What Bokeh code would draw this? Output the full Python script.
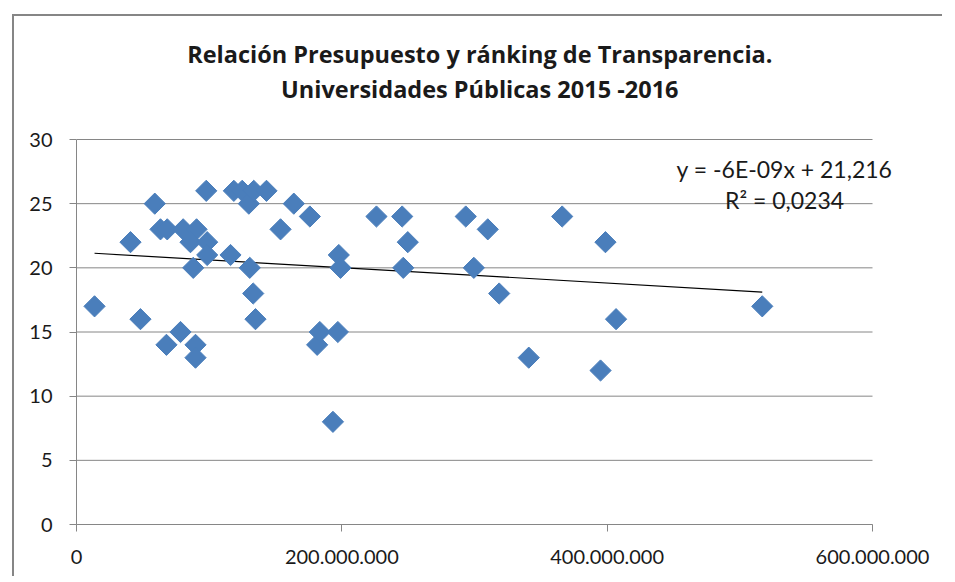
import numpy as np
from bokeh.plotting import figure
from bokeh.models import Range1d, FixedTicker, Label
from bokeh.embed import file_html
from bokeh.resources import INLINE

# Presupuesto (euros) and ranking de transparencia
presupuesto = [13.6e6, 40.7e6, 48.2e6, 59.0e6, 63.3e6, 68.4e6, 67.8e6, 78.4e6, 80.4e6,
               90.5e6, 85.9e6, 98.5e6, 98.5e6, 88.0e6, 89.7e6, 89.7e6, 97.8e6, 116.1e6,
               118.6e6, 124.9e6, 129.9e6, 133.6e6, 130.6e6, 133.2e6, 134.9e6, 143.2e6,
               153.8e6, 163.8e6, 175.9e6, 197.7e6, 199.0e6, 181.4e6, 183.4e6, 197.0e6,
               193.3e6, 226.1e6, 245.5e6, 249.7e6, 246.3e6, 293.4e6, 310.0e6, 299.5e6,
               318.6e6, 340.9e6, 366.1e6, 395.0e6, 398.7e6, 406.7e6, 516.9e6]
ranking = [17, 22, 16, 25, 23, 23, 14, 15, 23,
           23, 22, 22, 21, 20, 14, 13, 26, 21,
           26, 26, 25, 26, 20, 18, 16, 26,
           23, 25, 24, 21, 20, 14, 15, 15,
           8, 24, 24, 22, 20, 24, 23, 20,
           18, 13, 24, 12, 22, 16, 17]

trend_slope = -6e-09
trend_intercept = 21.216
equation_text = "y = -6E-09x + 21,216"
r2_text = "R\u00b2 = 0,0234"

title_line1 = "Relación Presupuesto y ránking de Transparencia."
title_line2 = "Universidades Públicas 2015 -2016"

x_ticks = [0, 200e6, 400e6, 600e6]
x_tick_labels = ["0", "200.000.000", "400.000.000", "600.000.000"]
y_ticks = [0, 5, 10, 15, 20, 25, 30]
X_AXIS_MAX = 600e6
Y_AXIS_MAX = 30

FONT = "Lato"
TITLE_FONT = "Open Sans"
TEXT = "#1a1a1a"
GRID = "#868686"
BLUE = "#4a7ebb"

# layout (pixels)
W, H = 930, 562
ML, MB, MR = 62, 54, 0
axis_px_w = 796.0
axis_px_h = 385.0
frame_w = W - ML - MR
frame_h = H - MB
x_end = X_AXIS_MAX * frame_w / axis_px_w
y_end = Y_AXIS_MAX * frame_h / axis_px_h

p = figure(width=W, height=H, output_backend="svg", toolbar_location=None,
           x_range=Range1d(0, x_end), y_range=Range1d(0, y_end),
           min_border_left=ML, min_border_right=MR, min_border_top=0, min_border_bottom=MB)
p.styles = {"border-top": "2px solid #868686", "border-left": "2px solid #868686",
            "border-right": "none", "outline": "none",
            "margin-left": "12px", "margin-top": "14px"}
p.outline_line_color = None
p.background_fill_color = "white"
p.border_fill_color = "white"
p.grid.grid_line_color = None

p.xaxis.ticker = FixedTicker(ticks=x_ticks)
p.xaxis.major_label_overrides = {t: l for t, l in zip(x_ticks, x_tick_labels)}
p.yaxis.ticker = FixedTicker(ticks=y_ticks)
p.xaxis.bounds = (0, X_AXIS_MAX)
p.yaxis.bounds = (0, Y_AXIS_MAX)
for ax in (p.xaxis, p.yaxis):
    ax.axis_line_color = GRID
    ax.major_tick_line_color = GRID
    ax.minor_tick_line_color = None
    ax.major_tick_in = 0
    ax.major_tick_out = 7
    ax.major_label_text_font = FONT
    ax.major_label_text_font_size = "20px"
    ax.major_label_text_color = TEXT
p.xaxis.major_label_standoff = 18
p.yaxis.major_label_standoff = 17

# horizontal gridlines
p.segment(x0=[0] * len(y_ticks), x1=[X_AXIS_MAX] * len(y_ticks), y0=y_ticks, y1=y_ticks,
          line_color=GRID, line_width=1)

# trend line
tx = np.array([min(presupuesto), max(presupuesto)])
ty = trend_slope * tx + trend_intercept
p.line(tx, ty, line_color="black", line_width=1.2)

p.scatter(presupuesto, ranking, marker="square", angle=np.pi / 4, size=15,
          fill_color=BLUE, line_color=BLUE)

p.add_layout(Label(x=533.7e6, y=27.7, text=equation_text, text_align="center",
                   text_baseline="middle", text_font=FONT, text_font_size="23px",
                   text_color=TEXT))
p.add_layout(Label(x=533.7e6, y=25.25, text=r2_text, text_align="center",
                   text_baseline="middle", text_font=FONT, text_font_size="23px",
                   text_color=TEXT))

p.add_layout(Label(x=304e6, y=36.65, text=title_line1, text_align="center",
                   text_baseline="middle", text_font=TITLE_FONT, text_font_size="23.5px",
                   text_font_style="bold", text_color=TEXT))
p.add_layout(Label(x=304e6, y=33.95, text=title_line2, text_align="center",
                   text_baseline="middle", text_font=TITLE_FONT, text_font_size="23.5px",
                   text_font_style="bold", text_color=TEXT))

open("out.html", "w").write(file_html(p, INLINE))
